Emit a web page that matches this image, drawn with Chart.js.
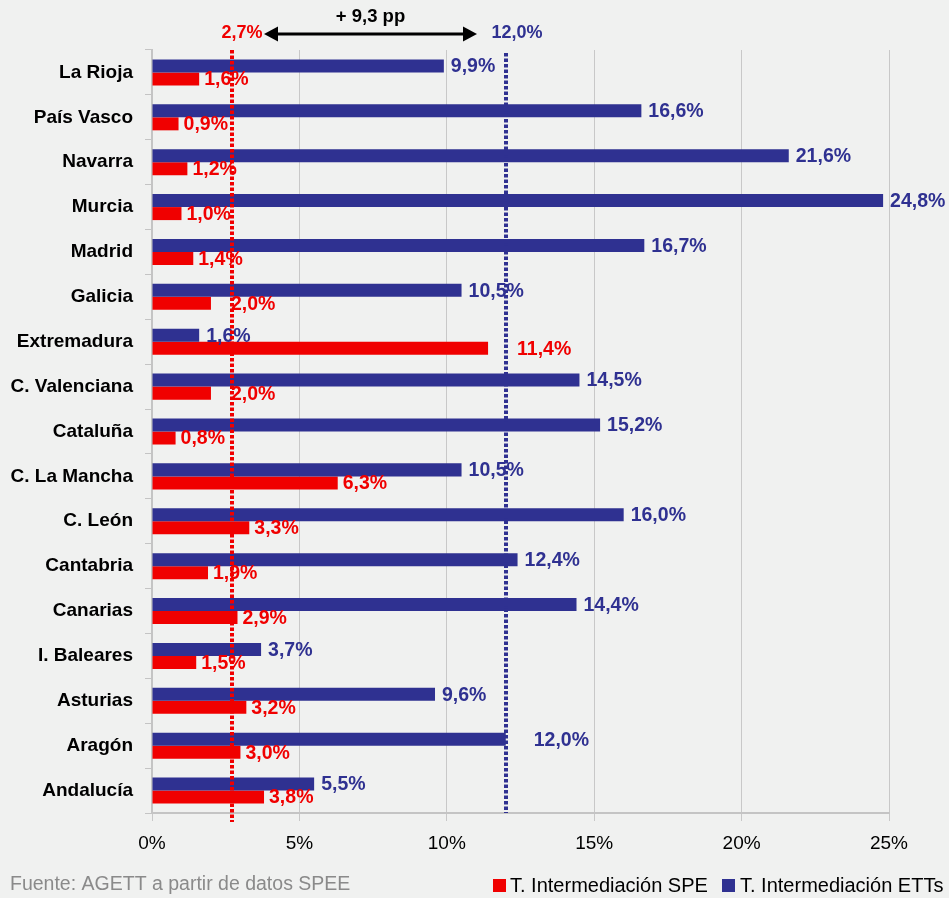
<!DOCTYPE html>
<html>
<head>
<meta charset="utf-8">
<script src="https://cdn.jsdelivr.net/npm/chart.js@4/dist/chart.umd.min.js"></script>
<style>
html,body{margin:0;padding:0;background:#f0f1f0;}
canvas{display:block;}
</style>
</head>
<body>
<canvas id="c" width="949" height="898"></canvas>
<script>
const categories = ['La Rioja','País Vasco','Navarra','Murcia','Madrid','Galicia','Extremadura','C. Valenciana','Cataluña','C. La Mancha','C. León','Cantabria','Canarias','I. Baleares','Asturias','Aragón','Andalucía'];
const ettValues = [9.9,16.6,21.6,24.8,16.7,10.5,1.6,14.5,15.2,10.5,16.0,12.4,14.4,3.7,9.6,12.0,5.5];
const speValues = [1.6,0.9,1.2,1.0,1.4,2.0,11.4,2.0,0.8,6.3,3.3,1.9,2.9,1.5,3.2,3.0,3.8];
const seriesNames = ['T. Intermediación ETTs','T. Intermediación SPE'];
const xTicks = [0,5,10,15,20,25];
const avgSPE = 2.7;
const avgETT = 12.0;
const gapLabel = '+ 9,3 pp';
const sourceText = 'Fuente: AGETT a partir de datos SPEE';

const NAVY = '#2f3191';
const RED = '#f00000';
const FONT = '"Liberation Sans", Arial, sans-serif';
// extra horizontal shifts for a few value labels (styling only)
const labelShift = [{'Aragón':21},{'Extremadura':24,'Galicia':15,'C. Valenciana':15}];

const fmt = v => v.toFixed(1).replace('.', ',') + '%';

const overlay = {
  id: 'overlay',
  afterDatasetsDraw(chart) {
    const ctx = chart.ctx;
    const xs = chart.scales.x;
    const area = chart.chartArea;
    ctx.save();
    // value labels
    ctx.font = 'bold 19.5px ' + FONT;
    ctx.textBaseline = 'middle';
    ctx.textAlign = 'left';
    chart.data.datasets.forEach((ds, di) => {
      const meta = chart.getDatasetMeta(di);
      ctx.fillStyle = ds.backgroundColor;
      meta.data.forEach((el, i) => {
        const shift = (labelShift[di][categories[i]] || 0);
        const off = di === 0 ? 7 : 5;
        ctx.fillText(fmt(ds.data[i]), el.x + off + shift, el.y + 1);
      });
    });
    // dotted reference lines
    ctx.lineCap = 'butt';
    ctx.lineWidth = 4;
    ctx.setLineDash([3.5, 2]);
    let x1 = Math.round(xs.getPixelForValue(avgSPE));
    ctx.strokeStyle = RED;
    ctx.beginPath(); ctx.moveTo(x1, area.top); ctx.lineTo(x1, area.bottom + 9); ctx.stroke();
    let x2 = Math.round(xs.getPixelForValue(avgETT));
    ctx.strokeStyle = NAVY;
    ctx.beginPath(); ctx.moveTo(x2, area.top + 3); ctx.lineTo(x2, area.bottom); ctx.stroke();
    ctx.setLineDash([]);
    // top annotations
    ctx.font = 'bold 18px ' + FONT;
    ctx.textBaseline = 'middle';
    ctx.textAlign = 'center';
    ctx.fillStyle = RED;
    ctx.fillText(fmt(avgSPE), x1 + 10, 33);
    ctx.fillStyle = NAVY;
    ctx.fillText(fmt(avgETT), x2 + 11, 33);
    // arrow
    const ax1 = x1 + 32, ax2 = x2 - 29, ay = 34;
    ctx.strokeStyle = '#000'; ctx.fillStyle = '#000';
    ctx.lineWidth = 3;
    ctx.beginPath(); ctx.moveTo(ax1 + 8, ay); ctx.lineTo(ax2 - 8, ay); ctx.stroke();
    ctx.beginPath(); ctx.moveTo(ax1, ay); ctx.lineTo(ax1 + 14, ay - 7.5); ctx.lineTo(ax1 + 14, ay + 7.5); ctx.closePath(); ctx.fill();
    ctx.beginPath(); ctx.moveTo(ax2, ay); ctx.lineTo(ax2 - 14, ay - 7.5); ctx.lineTo(ax2 - 14, ay + 7.5); ctx.closePath(); ctx.fill();
    ctx.font = 'bold 18.5px ' + FONT;
    ctx.fillText(gapLabel, (ax1 + ax2) / 2, 17);
    // source
    ctx.font = '19.5px ' + FONT;
    ctx.textAlign = 'left';
    ctx.fillStyle = '#8a8a8a';
    ctx.fillText(sourceText, 10, 885);
    // legend (SPE first)
    ctx.font = '20px ' + FONT;
    ctx.fillStyle = RED; ctx.fillRect(493, 879, 13, 13);
    ctx.fillStyle = '#000'; ctx.fillText(seriesNames[1], 510, 886);
    ctx.fillStyle = NAVY; ctx.fillRect(722, 879, 13, 13);
    ctx.fillStyle = '#000'; ctx.fillText(seriesNames[0], 740, 886);
    ctx.restore();
  }
};

new Chart(document.getElementById('c'), {
  type: 'bar',
  data: {
    labels: categories,
    datasets: [
      {label: seriesNames[0], data: ettValues, backgroundColor: NAVY, categoryPercentage: 0.58, barPercentage: 1.0},
      {label: seriesNames[1], data: speValues, backgroundColor: RED, categoryPercentage: 0.58, barPercentage: 1.0}
    ]
  },
  options: {
    indexAxis: 'y',
    responsive: false,
    animation: false,
    layout: {padding: {top: 50, right: 60, left: 0, bottom: 0}},
    plugins: {legend: {display: false}, tooltip: {enabled: false}},
    scales: {
      x: {
        min: xTicks[0], max: xTicks[xTicks.length - 1],
        afterBuildTicks: s => { s.ticks = xTicks.map(v => ({value: v})); },
        ticks: {callback: v => v + '%', color: '#000', font: {family: FONT, size: 19}, padding: 11, maxRotation: 0},
        grid: {color: '#c8c8c8', lineWidth: 1, tickLength: 8, drawTicks: true},
        border: {display: true, color: '#c4c4c4', width: 2},
        afterFit: s => { s.height = 85; }
      },
      y: {
        ticks: {color: '#000', font: {family: FONT, size: 19, weight: 'bold'}, padding: 12},
        grid: {drawOnChartArea: false, color: '#c4c4c4', tickLength: 7, offset: true},
        border: {display: true, color: '#c4c4c4', width: 2},
        afterFit: s => { s.width = 152; }
      }
    }
  },
  plugins: [overlay]
});
</script>
</body>
</html>
